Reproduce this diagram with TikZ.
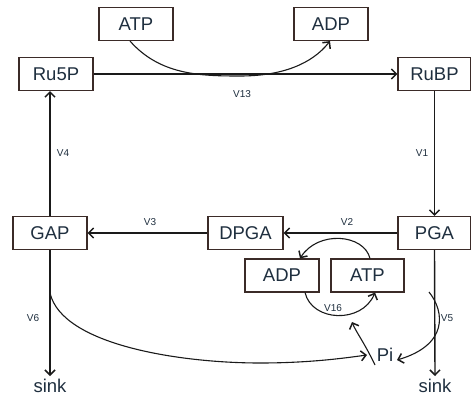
\documentclass[tikz,border=0pt]{standalone}
\usepackage{fontspec}
\setmainfont{Liberation Sans}
\usetikzlibrary{arrows.meta}
\definecolor{bordc}{HTML}{3B2B28}
\definecolor{txtc}{HTML}{1F2F3F}
\definecolor{linec}{HTML}{1A1A1A}
\begin{document}
\begin{tikzpicture}[x=1pt,y=-1pt,
  box/.style={draw=bordc,line width=1.1pt,fill=white,minimum width=74pt,minimum height=33pt,inner sep=0pt,text=txtc,font=\fontsize{18.5}{18.5}\selectfont},
  plain/.style={text=txtc,inner sep=0pt,font=\fontsize{18.5}{18.5}\selectfont},
  lab/.style={text=txtc,inner sep=0pt,font=\fontsize{10}{10}\selectfont},
  conn/.style={draw=linec,line width=1.4pt},
  curv/.style={draw=linec,line width=1.1pt},
  tip/.style={-{Straight Barb[length=5pt,width=10pt,line width=1.5pt]}}]
\fill[white] (0,0) rectangle (471,398);
\useasboundingbox (0,0) rectangle (471,398);
% nodes
\node[box] (atpT) at (136,24) {ATP};
\node[box] (adpT) at (331,24) {ADP};
\node[box] (ru5p) at (56,74) {Ru5P};
\node[box,minimum width=73pt] (rubp) at (434.5,74) {RuBP};
\node[box] (gap) at (50,233) {GAP};
\node[box,minimum width=75pt] (dpga) at (245.5,233) {DPGA};
\node[box,minimum width=73pt] (pga) at (434.5,233) {PGA};
\node[box] (adpM) at (282,275.5) {ADP};
\node[box,minimum width=73pt] (atpM) at (367.5,275.5) {ATP};
\node[plain] (pi) at (385,355) {Pi};
\node[plain] (sinkL) at (50,386) {sink};
\node[plain] (sinkR) at (435,386) {sink};
% labels
\node[lab] (l13) at (242,94) {V13};
\node[lab] (l1) at (422,153) {V1};
\node[lab] (l4) at (63,153) {V4};
\node[lab] (l3) at (150,222) {V3};
\node[lab] (l2) at (347,222) {V2};
\node[lab] (l6) at (33,318) {V6};
\node[lab] (l5) at (447,318) {V5};
\node[lab] (l16) at (333,308) {V16};
% coordinates
\coordinate (gapS) at (50,293);
\coordinate (pgaS) at (429,292);
\coordinate (sinkLt) at (50,376);
\coordinate (sinkRt) at (435,376);
% main connectors
\draw[conn,tip] (ru5p.east) -- (rubp.west);
\draw[conn,tip] (rubp.south -| pga.north) -- (pga.north);
\draw[conn,tip] (pga.west) -- (dpga.east);
\draw[conn,tip] (dpga.west) -- (gap.east);
\draw[conn,tip] (gap.north) -- (ru5p.south -| gap.north);
\draw[conn,tip] (gap.south) -- (sinkLt);
\draw[conn,tip] (pga.south) -- (sinkRt);
% curves
\draw[curv,tip] ([xshift=-6pt]atpT.south) .. controls (160,75) and (200,76) .. (240,76)
   .. controls (282,76) and (312,64) .. ([xshift=-1pt]adpT.south);
\draw[curv,tip] ([xshift=2.5pt]atpM.north) .. controls (364,234) and (318,230) .. ([xshift=18pt]adpM.north);
\draw[curv,tip] ([xshift=23pt]adpM.south) .. controls (312,322) and (362,324) .. ([xshift=7.5pt]atpM.south);
\draw[curv,tip] ([xshift=-10pt,yshift=-10pt]pi.center) .. controls (364,342) and (356,332) .. (352,322);
\draw[curv,tip] (pgaS) .. controls (445,312) and (448,345) .. ([xshift=12pt,yshift=-5pt]pi.center);
\draw[curv,tip] (gapS) .. controls (62,345) and (180,363) .. (260,363)
   .. controls (310,363) and (345,358) .. ([xshift=-18pt]pi.center);
\end{tikzpicture}
\end{document}
